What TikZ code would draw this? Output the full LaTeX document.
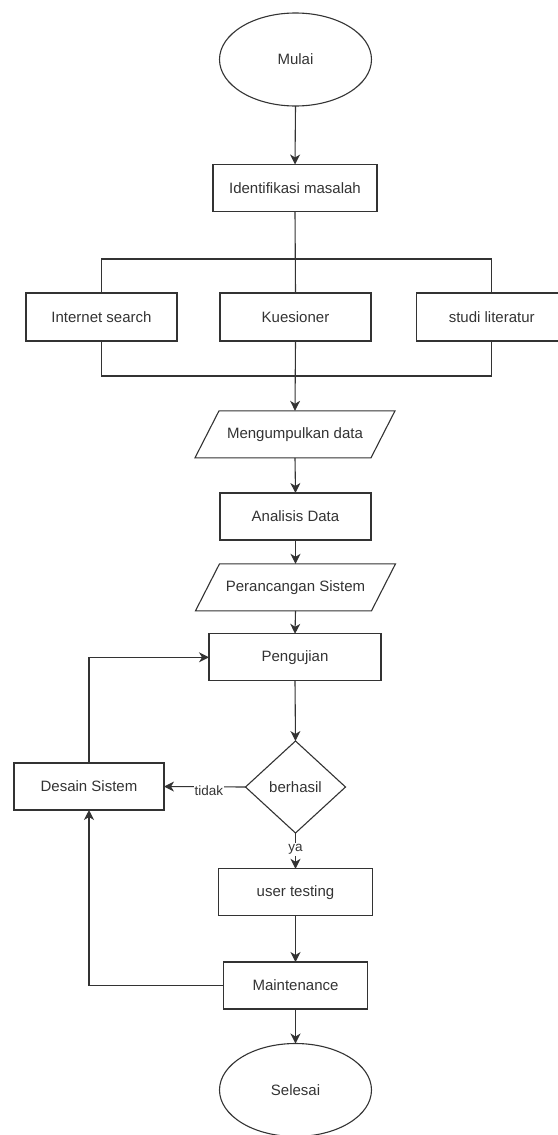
\documentclass[tikz,border=0pt]{standalone}
\usepackage{fontspec}
\setmainfont{Liberation Sans}
\usetikzlibrary{shapes.geometric,arrows.meta}
\definecolor{ln}{HTML}{333333}
\definecolor{tx}{HTML}{333333}
\tikzset{
  base/.style={draw=ln, line width=1.1pt, inner sep=0pt, outer sep=0pt, text=tx,
    font=\fontsize{15}{18}\selectfont},
  box/.style={base, rectangle, minimum height=47pt},
  oval/.style={base, ellipse, minimum width=152pt, minimum height=93pt},
  dia/.style={base, diamond, minimum width=100pt, minimum height=92pt},
  para/.style={base, draw=none, rectangle, minimum width=176pt, minimum height=47pt},
  conn/.style={draw=ln, line width=1.1pt},
  arr/.style={conn, -{Stealth[length=10pt,width=10pt,inset=3pt]}},
  lbl/.style={fill=white, inner sep=1pt, text=tx, font=\fontsize{13.5}{16}\selectfont}
}
\begin{document}
\begin{tikzpicture}[x=1pt,y=-1pt]
\useasboundingbox (0,0) rectangle (557,1135);
\node[oval] (mulai) at (295.5,59.5) {Mulai};
\node[box, minimum width=164pt] (ident) at (295,188) {Identifikasi masalah};
\node[box, minimum width=151pt, minimum height=48pt] (inet) at (101.5,317) {Internet search};
\node[box, minimum width=151pt, minimum height=48pt] (kues) at (295.5,317) {Kuesioner};
\node[box, minimum width=151pt, minimum height=48pt] (studi) at (491.7,317) {studi literatur};
\node[para] (kumpul) at (295,434.3) {Mengumpulkan data};
\draw[conn] ([xshift=12pt]kumpul.north west) -- ([xshift=12pt]kumpul.north east)
  -- ([xshift=-12pt]kumpul.south east) -- ([xshift=-12pt]kumpul.south west) -- cycle;
\node[box, minimum width=151pt] (analisis) at (295.5,516.5) {Analisis Data};
\node[para] (rancang) at (295.5,587.3) {Perancangan Sistem};
\draw[conn] ([xshift=12pt]rancang.north west) -- ([xshift=12pt]rancang.north east)
  -- ([xshift=-12pt]rancang.south east) -- ([xshift=-12pt]rancang.south west) -- cycle;
\node[box, minimum width=172pt] (uji) at (295,657.3) {Pengujian};
\node[dia] (hasil) at (295.5,787) {berhasil};
\node[box, minimum width=150pt] (desain) at (89,786.5) {Desain Sistem};
\node[box, minimum width=154pt] (user) at (295.5,892.3) {user testing};
\node[box, minimum width=144pt] (maint) at (295.5,985.5) {Maintenance};
\node[oval] (selesai) at (295.5,1090) {Selesai};
% connectors
\draw[arr] (mulai.south) -- (ident.north);
\draw[conn] (ident.south) -- (kues.north);
\coordinate (tl) at (inet.north |- 0,259);
\coordinate (tr) at (studi.north |- 0,259);
\coordinate (bl) at (inet.south |- 0,376);
\coordinate (br) at (studi.south |- 0,376);
\draw[conn] (inet.north) -- (tl) -- (tr) -- (studi.north);
\draw[conn] (inet.south) -- (bl) -- (br) -- (studi.south);
\draw[arr] (kues.south) -- (kumpul.north);
\draw[arr] (kumpul.south) -- (analisis.north);
\draw[arr] (analisis.south) -- (rancang.north);
\draw[arr] (rancang.south) -- (uji.north);
\draw[arr] (uji.south) -- (hasil.north);
\draw[arr] (hasil.west) -- (desain.east) node[lbl, pos=0.45, yshift=-3.5pt] (tidak) {tidak};
\draw[arr] (hasil.south) -- (user.north) node[lbl, pos=0.46] (ya) {ya};
\draw[arr] (user.south) -- (maint.north);
\draw[arr] (maint.south) -- (selesai.north);
\draw[arr] (desain.north) |- (uji.west);
\draw[arr] (maint.west) -| (desain.south);
\end{tikzpicture}
\end{document}
